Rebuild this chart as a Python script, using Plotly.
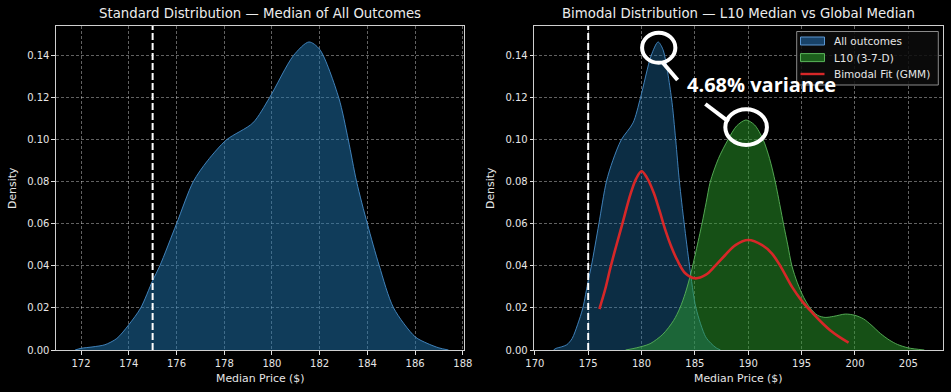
import plotly.graph_objects as go

# ---------------- data ----------------
all_price = [171.75, 172.0, 172.5, 173.0, 173.5, 174.0, 174.5, 175.0, 175.3, 176.0, 176.7, 177.3,
             178.1, 179.2, 179.9, 180.9, 181.55, 182.0, 182.8, 183.2, 183.55, 184.0, 184.5, 185.1,
             186.0, 186.5, 187.0, 187.4]
all_density = [0.000, 0.0008, 0.0015, 0.0025, 0.0055, 0.012, 0.020, 0.033, 0.040, 0.060, 0.080, 0.090,
               0.100, 0.108, 0.120, 0.140, 0.1465, 0.143, 0.120, 0.100, 0.080, 0.060, 0.040, 0.020,
               0.0063, 0.0032, 0.001, 0.000]

l10_price = [178.5, 179.5, 180.8, 182.0, 183.0, 183.6, 184.1, 184.6, 185.1, 185.66, 186.05, 186.44,
             187.2, 188.1, 188.9, 189.78, 190.6, 191.4, 192.0, 192.53, 193.0, 193.3, 193.7, 194.09,
             194.6, 195.2, 195.8, 196.5, 197.2, 198.0, 199.1, 200.0, 200.8, 201.5, 202.4, 203.2,
             204.0, 205.0, 206.5]
l10_density = [0.0, 0.001, 0.003, 0.0075, 0.014, 0.020, 0.027, 0.036, 0.047, 0.060, 0.070, 0.080,
               0.091, 0.100, 0.1065, 0.1094, 0.107, 0.100, 0.091, 0.080, 0.068, 0.060, 0.050, 0.040,
               0.032, 0.025, 0.020, 0.0165, 0.0155, 0.016, 0.0171, 0.0165, 0.0148, 0.012, 0.0078, 0.0048,
               0.0026, 0.001, 0.0]

gmm_price = [176.05, 176.6, 177.1, 177.6, 178.2, 179.0, 179.5, 180.0, 180.5, 181.15, 181.7, 182.25,
             182.8, 183.35, 184.1, 185.0, 186.0, 186.9, 187.85, 188.8, 190.0, 191.3, 192.2, 193.0,
             194.1, 195.0, 196.1, 197.0, 197.7, 198.6, 199.4]
gmm_density = [0.0195, 0.029, 0.0395, 0.049, 0.060, 0.0747, 0.0815, 0.085, 0.082, 0.0747, 0.066, 0.0568,
               0.049, 0.0427, 0.0365, 0.0341, 0.0357, 0.040, 0.0452, 0.0499, 0.0523, 0.0499, 0.046, 0.040,
               0.030, 0.0235, 0.0172, 0.0125, 0.0093, 0.006, 0.0035]

current_price = 175.0
left_ticks = [172, 174, 176, 178, 180, 182, 184, 186, 188]
right_ticks = [170, 175, 180, 185, 190, 195, 200, 205]
y_ticks = [0.00, 0.02, 0.04, 0.06, 0.08, 0.10, 0.12, 0.14]
series_names = ["All outcomes", "L10 (3-7-D)", "Bimodal Fit (GMM)"]
annotation_text = "4.68% variance"

# ---------------- figure ----------------
W, H = 951, 392
fig = go.Figure()

BLUE_EDGE = "rgba(70,140,200,0.9)"
GREEN_EDGE = "rgba(90,180,90,0.9)"
BLUE_FILL_L = "rgba(31,119,180,0.5)"
BLUE_FILL_R = "rgba(31,119,180,0.38)"
GREEN_FILL = "rgba(44,160,44,0.5)"
RED = "#d62728"

fig.add_trace(go.Scatter(x=all_price, y=all_density, mode="lines", fill="tozeroy",
                         line=dict(color=BLUE_EDGE, width=1, shape="spline", smoothing=0.8),
                         fillcolor=BLUE_FILL_L, showlegend=False,
                         xaxis="x", yaxis="y", hoverinfo="skip"))

fig.add_trace(go.Scatter(x=all_price, y=all_density, mode="lines", fill="tozeroy",
                         line=dict(color=BLUE_EDGE, width=1, shape="spline", smoothing=0.8),
                         fillcolor=BLUE_FILL_R, name=series_names[0], showlegend=False,
                         xaxis="x2", yaxis="y2", hoverinfo="skip"))
fig.add_trace(go.Scatter(x=l10_price, y=l10_density, mode="lines", fill="tozeroy",
                         line=dict(color=GREEN_EDGE, width=1, shape="spline", smoothing=0.8),
                         fillcolor=GREEN_FILL, name=series_names[1], showlegend=False,
                         xaxis="x2", yaxis="y2", hoverinfo="skip"))
fig.add_trace(go.Scatter(x=gmm_price, y=gmm_density, mode="lines",
                         line=dict(color=RED, width=2.6, shape="spline", smoothing=1.0),
                         name=series_names[2], showlegend=False, xaxis="x2", yaxis="y2", hoverinfo="skip"))

# geometry (pixels)
L_X0, L_X1 = 56, 464
R_X0, R_X1 = 534.3, 943
Y_TOP, Y_BOT = 26, 350

def px(v):
    return v / W

def py(v):
    return 1 - v / H

axis_common = dict(showgrid=True, gridcolor="rgba(255,255,255,0.38)", gridwidth=0.8, griddash="3px,2px",
                   zeroline=False, showline=True, linecolor="#cfcfcf", linewidth=1.2, mirror=True,
                   ticks="outside", ticklen=3.5, tickwidth=1, tickcolor="#e0e0e0", automargin=False,
                   tickfont=dict(family="DejaVu Sans", size=10, color="#e6e6e6"))

fig.update_layout(
    width=W, height=H, paper_bgcolor="black", plot_bgcolor="black",
    margin=dict(l=0, r=0, t=0, b=0, autoexpand=False),
    showlegend=False,
    xaxis=dict(domain=[px(L_X0), px(L_X1)], range=[170.95, 188.05], tickvals=left_ticks,
               anchor="y", **axis_common),
    yaxis=dict(domain=[py(Y_BOT), py(Y_TOP)], range=[0, 0.1541], tickvals=y_ticks, tickformat=".2f",
               anchor="x", **axis_common),
    xaxis2=dict(domain=[px(R_X0), px(R_X1)], range=[169.95, 208.25], tickvals=right_ticks,
                anchor="y2", **axis_common),
    yaxis2=dict(domain=[py(Y_BOT), py(Y_TOP)], range=[0, 0.1541], tickvals=y_ticks, tickformat=".2f",
                anchor="x2", **axis_common),
    font=dict(family="DejaVu Sans", color="#e6e6e6"),
)

# dashed current-price lines
for xr, yr in (("x", "y"), ("x2", "y2")):
    fig.add_shape(type="line", xref=xr, yref=yr + " domain", x0=current_price, x1=current_price,
                  y0=0, y1=1, line=dict(color="white", width=2, dash="7px,3px"))

# titles and axis labels
title_font = dict(family="DejaVu Sans", size=13.3, color="#ececec")
lab_font = dict(family="DejaVu Sans", size=10.9, color="#e6e6e6")
for cx, title in (((L_X0 + L_X1) / 2, "Standard Distribution — Median of All Outcomes"),
                  ((R_X0 + R_X1) / 2, "Bimodal Distribution — L10 Median vs Global Median")):
    fig.add_annotation(xref="paper", yref="paper", x=px(cx), y=py(14), text=title,
                       showarrow=False, font=title_font, xanchor="center", yanchor="middle")
    fig.add_annotation(xref="paper", yref="paper", x=px(cx), y=py(378), text="Median Price ($)",
                       showarrow=False, font=lab_font, xanchor="center", yanchor="middle")
for cx in (12, 490):
    fig.add_annotation(xref="paper", yref="paper", x=px(cx), y=py((Y_TOP + Y_BOT) / 2), text="Density",
                       textangle=-90, showarrow=False, font=lab_font, xanchor="center", yanchor="middle")

# legend (drawn as a matplotlib-style box)
LG_X0, LG_X1, LG_Y0, LG_Y1 = 796.7, 938.3, 31.5, 85
fig.add_shape(type="rect", xref="paper", yref="paper", x0=px(LG_X0), x1=px(LG_X1), y0=py(LG_Y1), y1=py(LG_Y0),
              fillcolor="rgba(12,12,12,0.85)", line=dict(color="#8a8a8a", width=1), layer="above")
rows = [41, 57.6, 74]
legend_fill = [("rgba(24,66,104,1)", "rgba(90,150,210,1)"), ("rgba(28,96,28,1)", "rgba(90,180,90,1)")]
for i, name in enumerate(series_names):
    yc = rows[i]
    if i < 2:
        fig.add_shape(type="rect", xref="paper", yref="paper", x0=px(800.5), x1=px(824.5),
                      y0=py(yc + 4), y1=py(yc - 4), fillcolor=legend_fill[i][0],
                      line=dict(color=legend_fill[i][1], width=1), layer="above")
    else:
        fig.add_shape(type="line", xref="paper", yref="paper", x0=px(800.5), x1=px(824.5),
                      y0=py(yc), y1=py(yc), line=dict(color=RED, width=2.4), layer="above")
    fig.add_annotation(xref="paper", yref="paper", x=px(832), y=py(yc), text=name, showarrow=False,
                       font=dict(family="DejaVu Sans", size=10.5, color="#e6e6e6"),
                       xanchor="left", yanchor="middle")

# hand-drawn style callouts
CW = dict(color="white", width=4)
fig.add_shape(type="circle", xref="x2", yref="y2", x0=180.05, x1=183.17, y0=0.1366, y1=0.1509, line=CW)
fig.add_shape(type="line", xref="x2", yref="y2", x0=181.92, y0=0.1371, x1=183.38, y1=0.1284, line=CW)
fig.add_shape(type="circle", xref="x2", yref="y2", x0=187.85, x1=191.75, y0=0.0975, y1=0.1145, line=CW)
fig.add_shape(type="line", xref="x2", yref="y2", x0=185.98, y0=0.1170, x1=188.16, y1=0.1086, line=CW)
fig.add_annotation(xref="x2", yref="y2", x=191.23, y=0.1262, text="<b>" + annotation_text + "</b>",
                   showarrow=False, font=dict(family="Open Sans", size=20, color="white"),
                   xanchor="center", yanchor="middle")

fig.write_html("out.html", config={"displayModeBar": False},
               post_script="document.body.style.margin='0px';document.body.style.background='black';")
